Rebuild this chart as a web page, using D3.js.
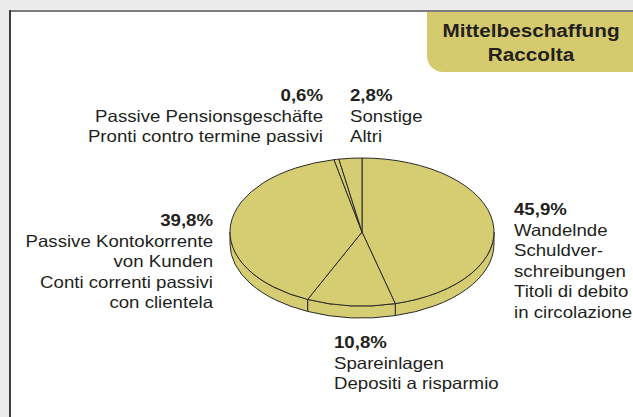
<!DOCTYPE html>
<html>
<head>
<meta charset="utf-8">
<script src="https://cdn.jsdelivr.net/npm/d3@7/dist/d3.min.js"></script>
<style>
  html, body { margin: 0; padding: 0; background: #ebeceb; }
  svg { display: block; }
  text { font-family: "Liberation Sans", Arial, Helvetica, sans-serif; fill: #231f20; }
</style>
</head>
<body>
<script>
// ---- data ----
const categories = [
  "Wandelnde Schuldverschreibungen",
  "Spareinlagen",
  "Passive Kontokorrente von Kunden",
  "Passive Pensionsgeschäfte",
  "Sonstige"
];
const values = [45.9, 10.8, 39.8, 0.6, 2.8];
const percentLabels = ["45,9%", "10,8%", "39,8%", "0,6%", "2,8%"];
const labelLines = [
  ["Wandelnde", "Schuldver-", "schreibungen", "Titoli di debito", "in circolazione"],
  ["Spareinlagen", "Depositi a risparmio"],
  ["Passive Kontokorrente", "von Kunden", "Conti correnti passivi", "con clientela"],
  ["Passive Pensionsgeschäfte", "Pronti contro termine passivi"],
  ["Sonstige", "Altri"]
];
const titleLines = ["Mittelbeschaffung", "Raccolta"];

// ---- layout ----
const W = 633, H = 417;
const cx = 362, cy = 232, rx = 132, ry = 74, depth = 12;
const fillColor = "#d6cc72", strokeColor = "#2a2a2a";
const fontSize = 16.5, stretch = 1.13, lineH = 20.6;
const labelPos = [
  {x: 514, y: 215, anchor: "start"},
  {x: 334, y: 348, anchor: "start"},
  {x: 213, y: 226, anchor: "end"},
  {x: 323, y: 101, anchor: "end"},
  {x: 350, y: 101, anchor: "start"}
];

const svg = d3.select("body").append("svg").attr("width", W).attr("height", H);

// background & frame
svg.append("rect").attr("width", W).attr("height", H).attr("fill", "#ebeceb");
svg.append("rect").attr("x", 10).attr("y", 11).attr("width", W - 10).attr("height", H - 11).attr("fill", "#ffffff");
svg.append("line").attr("x1", 9).attr("x2", W).attr("y1", 11).attr("y2", 11)
  .attr("stroke", "#7d7d7d").attr("stroke-width", 2);
svg.append("line").attr("x1", 10).attr("x2", 10).attr("y1", 10).attr("y2", H)
  .attr("stroke", "#3c3c3c").attr("stroke-width", 2);

// title box
const tb = {x0: 427, x1: W, y0: 12, y1: 72, r: 16};
const tp = d3.path();
tp.moveTo(tb.x0, tb.y0);
tp.lineTo(tb.x1, tb.y0);
tp.lineTo(tb.x1, tb.y1);
tp.lineTo(tb.x0 + tb.r, tb.y1);
tp.arcTo(tb.x0, tb.y1, tb.x0, tb.y1 - tb.r, tb.r);
tp.closePath();
svg.append("path").attr("d", tp.toString()).attr("fill", "#d5cb6e");
titleLines.forEach((t, i) => {
  svg.append("text")
    .attr("transform", `translate(${(tb.x0 + tb.x1) / 2 + 1},${37 + i * 24}) scale(1.12,1)`)
    .attr("text-anchor", "middle")
    .attr("font-weight", "bold")
    .attr("font-size", 18.5)
    .text(t);
});

// pie
const pie = d3.pie().sort(null).value(d => d);
const arcs = pie(values);
const P = (a, dy = 0) => [cx + rx * Math.sin(a), cy - ry * Math.cos(a) + dy];

const sideG = svg.append("g");
// sides (front half only)
arcs.forEach(d => {
  const s = Math.max(d.startAngle, Math.PI / 2);
  const e = Math.min(d.endAngle, 3 * Math.PI / 2);
  if (s >= e) return;
  const p0 = P(s), p1 = P(e), p2 = P(e, depth), p3 = P(s, depth);
  const large = (e - s) > Math.PI ? 1 : 0;
  const path = `M${p0}A${rx},${ry} 0 ${large} 1 ${p1}L${p2}A${rx},${ry} 0 ${large} 0 ${p3}Z`;
  sideG.append("path").attr("d", path)
    .attr("fill", fillColor).attr("stroke", strokeColor).attr("stroke-width", 1)
    .attr("stroke-linejoin", "round");
});
// top faces
const arcGen = d3.arc().innerRadius(0).outerRadius(rx);
const topG = svg.append("g").attr("transform", `translate(${cx},${cy}) scale(1,${ry / rx})`);
topG.selectAll("path").data(arcs).join("path")
  .attr("d", arcGen)
  .attr("fill", fillColor)
  .attr("stroke", strokeColor)
  .attr("stroke-width", 1)
  .attr("stroke-linejoin", "round")
  .attr("vector-effect", "non-scaling-stroke");

// labels
arcs.forEach((d, i) => {
  const lp = labelPos[i];
  const lines = [{t: percentLabels[i], b: true}].concat(labelLines[i].map(t => ({t, b: false})));
  lines.forEach((l, j) => {
    svg.append("text")
      .attr("transform", `translate(${lp.x},${lp.y + j * lineH}) scale(${stretch},1)`)
      .attr("text-anchor", lp.anchor)
      .attr("font-size", fontSize)
      .attr("font-weight", l.b ? "bold" : "normal")
      .text(l.t);
  });
});
</script>
</body>
</html>
